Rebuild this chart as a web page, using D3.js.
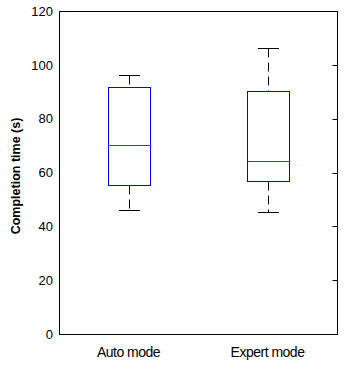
<!DOCTYPE html>
<html>
<head>
<meta charset="utf-8">
<script src="https://cdn.jsdelivr.net/npm/d3@7"></script>
<style>
  body { margin: 0; background: #fff; }
  text { font-family: "Liberation Sans", Arial, sans-serif; }
</style>
</head>
<body>
<script>
    var categories = ["Auto mode", "Expert mode"],
        lowWhisker = [46, 45.2],
        q1 = [55.3, 56.7],
        median = [70.1, 64.2],
        q3 = [91.7, 90.3],
        highWhisker = [96.1, 106.1],
        yTicks = [0, 20, 40, 60, 80, 100, 120];

    var width = 350,
        height = 380,
        margin = {top: 11, right: 13, bottom: 46, left: 59},
        plotW = width - margin.left - margin.right,
        plotH = height - margin.top - margin.bottom;

    var svg = d3.select("body").append("svg")
                .attr("width", width)
                .attr("height", height);

    var g = svg.append("g")
               .attr("transform", "translate(" + margin.left + "," + margin.top + ")");

    var y = d3.scaleLinear().domain([0, 120]).range([plotH, 0]);
    var x = d3.scalePoint().domain(categories).range([0, plotW]).padding(0.5);

    // snap to pixel centres so 1px lines stay crisp
    function sy(v) { return Math.round(y(v)) + 0.5; }

    // frame
    g.append("rect")
     .attr("x", 0.5).attr("y", 0.5)
     .attr("width", plotW).attr("height", plotH)
     .attr("fill", "none")
     .attr("stroke", "#000")
     .attr("stroke-width", 1);

    // left labels, no tick marks
    var left = g.append("g").call(d3.axisLeft(y).tickValues(yTicks).tickSize(0).tickPadding(6));
    left.select(".domain").remove();
    left.selectAll("text").style("font-size", "13px").attr("fill", "#000");

    // right side, inward ticks
    var right = g.append("g")
                 .attr("transform", "translate(" + (plotW + 0.5) + ",0)")
                 .call(d3.axisLeft(y).tickValues(yTicks).tickSize(5).tickFormat(""));
    right.select(".domain").remove();
    right.selectAll(".tick").attr("transform", function(d) { return "translate(0," + sy(d) + ")"; });
    right.selectAll("line").attr("stroke", "#000");

    // bottom labels
    g.selectAll(".xlab")
     .data(categories)
     .enter()
     .append("text")
     .attr("class", "xlab")
     .attr("x", function(d) { return x(d); })
     .attr("y", plotH + 23)
     .attr("text-anchor", "middle")
     .style("font-size", "14px")
     .style("letter-spacing", "-0.5px")
     .text(function(d) { return d; });

    // y title
    svg.append("text")
       .attr("transform", "translate(20,176) rotate(-90)")
       .attr("text-anchor", "middle")
       .style("font-size", "12.5px")
       .style("font-weight", "bold")
       .text("Completion time (s)");

    var boxW = 42, capW = 20;

    var boxes = g.selectAll(".box")
                 .data(categories)
                 .enter()
                 .append("g")
                 .attr("class", "box")
                 .attr("transform", function(d) { return "translate(" + Math.round(x(d)) + ",0)"; });

    // whiskers
    boxes.append("line")
         .attr("x1", 0.5).attr("x2", 0.5)
         .attr("y1", function(d, i) { return sy(highWhisker[i]); })
         .attr("y2", function(d, i) { return sy(q3[i]); })
         .attr("stroke", "#000")
         .attr("stroke-dasharray", "9,5");
    boxes.append("line")
         .attr("x1", 0.5).attr("x2", 0.5)
         .attr("y1", function(d, i) { return sy(q1[i]); })
         .attr("y2", function(d, i) { return sy(lowWhisker[i]); })
         .attr("stroke", "#000")
         .attr("stroke-dasharray", "9,5");

    // caps
    [highWhisker, lowWhisker].forEach(function(arr) {
        boxes.append("line")
             .attr("x1", -capW / 2).attr("x2", capW / 2 + 1)
             .attr("y1", function(d, i) { return sy(arr[i]); })
             .attr("y2", function(d, i) { return sy(arr[i]); })
             .attr("stroke", "#000");
    });

    // box
    boxes.append("rect")
         .attr("x", -boxW / 2 + 0.5)
         .attr("y", function(d, i) { return sy(q3[i]); })
         .attr("width", boxW)
         .attr("height", function(d, i) { return sy(q1[i]) - sy(q3[i]); })
         .attr("fill", "none")
         .attr("stroke", "#0000ee");

    // median
    boxes.append("line")
         .attr("x1", -boxW / 2 + 0.5).attr("x2", boxW / 2 + 0.5)
         .attr("y1", function(d, i) { return sy(median[i]); })
         .attr("y2", function(d, i) { return sy(median[i]); })
         .attr("stroke", "#ee0000");
</script>
</body>
</html>
